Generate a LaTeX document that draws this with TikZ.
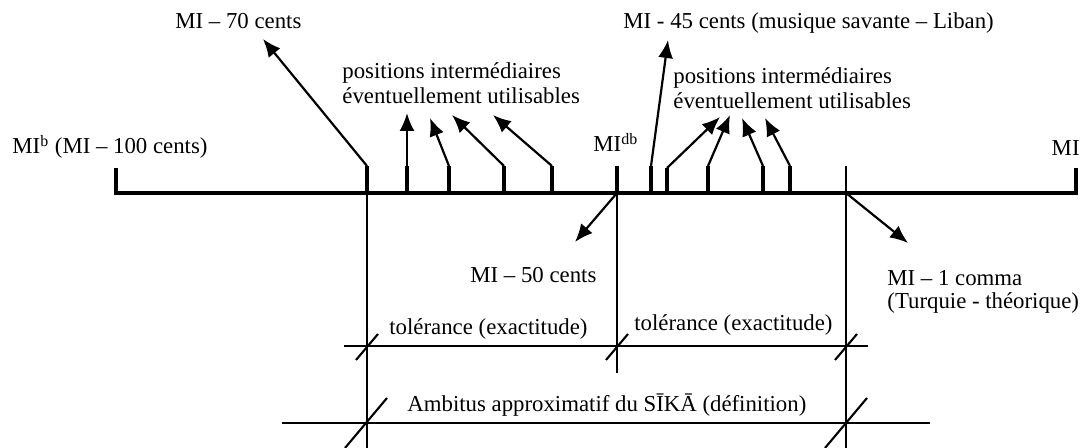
\documentclass[tikz,border=0pt]{standalone}
\usepackage{fontspec}
\setmainfont{Liberation Serif}
\usetikzlibrary{arrows.meta}

\begin{document}
\begin{tikzpicture}[x=0.5pt,y=-0.5pt]
\tikzstyle{lbl}=[inner sep=0pt,font=\fontsize{11.4}{12.8}\selectfont]
\tikzstyle{tk}=[line width=1.9pt]
\tikzstyle{fine}=[line width=1.05pt]
\tikzstyle{pt}=[-{Latex[length=9pt,width=7.5pt]},line width=1.1pt]
\useasboundingbox (0,0) rectangle (1086,448);

% points on the scale
\coordinate (lo) at (116,193);
\coordinate (hi) at (1076,193);
\coordinate (m70) at (367,193);
\coordinate (mdb) at (617,193);
\coordinate (m1c) at (846,193);
\coordinate (t70) at (367,166);
\coordinate (tdb) at (617,166);
\coordinate (t1c) at (846,166);
\coordinate (t45) at (651,166);
\coordinate (p1) at (407,166);
\coordinate (p2) at (449,166);
\coordinate (p3) at (504,166);
\coordinate (p4) at (552,166);
\coordinate (q1) at (667,168);
\coordinate (q2) at (708,166);
\coordinate (q3) at (763,166);
\coordinate (q4) at (790,166);
% arrow tips
\coordinate (e70) at (263,39);
\coordinate (e45) at (668,40);
\coordinate (e1) at (407,113);
\coordinate (e2) at (430,118);
\coordinate (e3) at (452,115);
\coordinate (e4) at (493,115);
\coordinate (f1) at (720,117);
\coordinate (f2) at (730,115);
\coordinate (f3) at (742,118);
\coordinate (f4) at (765,118);
\coordinate (e50) at (575,242);
\coordinate (e1c) at (908,243);
% lower scales
\coordinate (tol1) at (344,346);
\coordinate (tol2) at (868,346);
\coordinate (amb1) at (282,423);
\coordinate (amb2) at (930,423);

% labels
\node[lbl,anchor=base west] (l70) at (175,29) {MI -- 70 cents};
\node[lbl,anchor=base west] (l45) at (623,29) {MI - 45 cents (musique savante -- Liban)};
\node[lbl,anchor=base west] (lb) at (12,154) {MI\textsuperscript{b} (MI -- 100 cents)};
\node[lbl,anchor=base west] (ldb) at (593,152) {MI\textsuperscript{db}};
\node[lbl,anchor=base east] (lmi) at (1080,156) {MI};
\node[lbl,anchor=west,align=left] (pos1) at (342,83) {positions intermédiaires\\éventuellement utilisables};
\node[lbl,anchor=west,align=left] (pos2) at (673,88) {positions intermédiaires\\éventuellement utilisables};
\node[lbl,anchor=base west] (l50) at (470,283) {MI -- 50 cents};
\node[lbl,anchor=west,align=left,font=\fontsize{11.4}{11.8}\selectfont] (lcom) at (887,292) {MI -- 1 comma\\(Turquie - théorique)};
\node[lbl,anchor=base west] (tl1) at (389,335) {tolérance (exactitude)};
\node[lbl,anchor=base west] (tl2) at (634,331) {tolérance (exactitude)};
\node[lbl,anchor=base west] (amb) at (407,411) {Ambitus approximatif du SĪKĀ (définition)};

% the scale
\draw[tk] (116,168) -- (lo) -- (hi) -- (1076,168);
\draw[tk] (t70) -- (m70);
\draw[tk] (tdb) -- (mdb);
\draw[fine,line width=1.3pt] (t1c) -- (m1c);
\draw[tk] (t45) -- (t45 |- lo);
\draw[tk] (p1) -- (p1 |- lo);
\draw[tk] (p2) -- (p2 |- lo);
\draw[tk] (p3) -- (p3 |- lo);
\draw[tk] (p4) -- (p4 |- lo);
\draw[tk] (q1) -- (q1 |- lo);
\draw[tk] (q2) -- (q2 |- lo);
\draw[tk] (q3) -- (q3 |- lo);
\draw[tk] (q4) -- (q4 |- lo);

% vertical guides
\draw[fine] (m70) -- (367,448);
\draw[fine] (mdb) -- (617,373);
\draw[fine] (m1c) -- (846,448);

\draw[pt] (t70) -- (e70);
\draw[pt] (t45) -- (e45);
\draw[pt] (p1) -- (e1);
\draw[pt] (p2) -- (e2);
\draw[pt] (p3) -- (e3);
\draw[pt] (p4) -- (e4);
\draw[pt] (q1) -- (f1);
\draw[pt] (q2) -- (f2);
\draw[pt] (q3) -- (f3);
\draw[pt] (q4) -- (f4);
\draw[pt] (mdb) -- (e50);
\draw[pt] (m1c) -- (e1c);

% tolerance and ambitus
\draw[fine] (tol1) -- (tol2);
\draw[fine] (367,346) ++(-11,14) -- ++(22,-26);
\draw[fine] (617,346) ++(-11,14) -- ++(22,-26);
\draw[fine] (846,346) ++(-11,14) -- ++(22,-26);
\draw[fine] (amb1) -- (amb2);
\draw[fine] (366,423) ++(-21,25) -- ++(42,-50);
\draw[fine] (846,423) ++(-21,25) -- ++(42,-50);
\end{tikzpicture}
\end{document}
